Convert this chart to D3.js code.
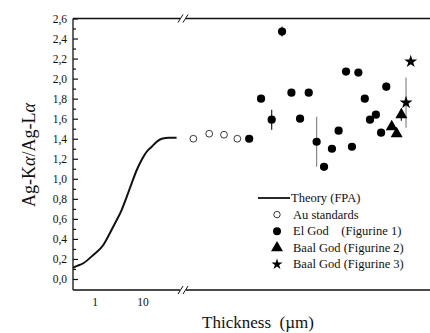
<!DOCTYPE html>
<html lang="en">
<head>
<meta charset="utf-8">
<title>Ag-Ka/Ag-La vs thickness</title>
<script src="https://cdn.jsdelivr.net/npm/d3@7"></script>
<style>
  body { margin: 0; background: #fff; }
  svg text { font-family: "Liberation Serif", "DejaVu Serif", serif; fill: #111; }
</style>
</head>
<body>
<script>
// theory curve (FPA), thickness in um
var theoryT = [0.35, 0.38, 0.57, 0.92, 1.49, 2.05, 2.61, 3.6, 4.57, 5.8, 7.4, 9.4, 11.9, 15.2, 19.3, 24.5, 35, 50];
var theoryY = [0.11, 0.12, 0.157, 0.24, 0.34, 0.46, 0.556, 0.69, 0.82, 0.955, 1.088, 1.19, 1.27, 1.32, 1.37, 1.40, 1.41, 1.41];

// measured samples, placed after the axis break (sample position)
var auPos = [4.2, 10.6, 16.6, 22.0];
var auVal = [1.40, 1.45, 1.44, 1.40];

var elPos = [26.8, 31.6, 35.9, 40.1, 43.9, 47.4, 50.9, 54.1, 57.1, 60.3, 63.0, 66.0, 68.4, 71.0, 73.6, 75.7, 78.1, 80.2, 82.3];
var elVal = [1.40, 1.80, 1.59, 2.47, 1.86, 1.60, 1.86, 1.37, 1.12, 1.30, 1.48, 2.07, 1.32, 2.06, 1.80, 1.59, 1.64, 1.46, 1.92];
var elErr = [0, 0, 0.10, 0.05, 0, 0, 0, 0.25, 0, 0, 0, 0, 0, 0.03, 0, 0, 0, 0, 0.04];

var baal2Pos = [84.5, 86.5, 88.4];
var baal2Val = [1.52, 1.45, 1.64];
var baal2Err = [0, 0, 0.06];

var baal3Pos = [90.3, 92.2];
var baal3Val = [1.76, 2.17];
var baal3Err = [0.25, 0];

var xTicks = [1, 10];
var legendLabels = ["Theory (FPA)", "Au standards", "El God\u00a0\u00a0\u00a0\u00a0(Figurine 1)", "Baal God (Figurine 2)", "Baal God (Figurine 3)"];

var w = 430, h = 333;
var padL = 73, breakX = 183, padR = 430, padT = 18.5;

var svg = d3.select("body").append("svg").attr("width", w).attr("height", h)
   .attr("font-family", "Liberation Serif, serif");

var y = d3.scaleLinear().domain([0, 2.6]).range([279, padT]);
var padB = y(-0.11);
var xLog = d3.scaleLog().domain([0.348, 68]).range([padL, breakX]);
var xPos = d3.scaleLinear().domain([0, 100]).range([breakX, padR]);

// frame
svg.append("line").attr("x1", padL).attr("x2", padR).attr("y1", padT).attr("y2", padT)
   .attr("stroke", "#111").attr("stroke-width", 1.3);
svg.append("line").attr("x1", padL).attr("x2", padR).attr("y1", padB).attr("y2", padB)
   .attr("stroke", "#111").attr("stroke-width", 1.3);
svg.append("line").attr("x1", padL).attr("x2", padL).attr("y1", padT).attr("y2", padB)
   .attr("stroke", "#111").attr("stroke-width", 1.3);

// axis break marks
[padT, padB].forEach(function(yy) {
  svg.append("rect").attr("x", breakX - 3).attr("y", yy - 3).attr("width", 6).attr("height", 6).attr("fill", "#fff");
  [-2.5, 2.5].forEach(function(dx) {
    svg.append("line")
       .attr("x1", breakX + dx - 2.5).attr("y1", yy + 4)
       .attr("x2", breakX + dx + 2.5).attr("y2", yy - 4)
       .attr("stroke", "#111").attr("stroke-width", 1);
  });
});

// y axis, ticks pointing inside
var fmt = function(d) { return d3.format(".1f")(d).replace(".", ","); };
var yAxis = svg.append("g").attr("transform", "translate(" + padL + ",0)")
   .call(d3.axisLeft(y).tickValues(d3.range(0, 2.61, 0.2)).tickSizeInner(-5).tickSizeOuter(0).tickPadding(6).tickFormat(fmt));
yAxis.select(".domain").remove();
yAxis.attr("font-family", "Liberation Serif, serif");
yAxis.selectAll("line").attr("stroke", "#111").attr("stroke-width", 1.2);
yAxis.selectAll("text").attr("font-size", "11.5px").attr("fill", "#222");

var yMinor = svg.append("g").attr("transform", "translate(" + padL + ",0)")
   .call(d3.axisLeft(y).tickValues(d3.range(0.1, 2.6, 0.2)).tickSizeInner(-3).tickSizeOuter(0).tickFormat(""));
yMinor.select(".domain").remove();
yMinor.selectAll("line").attr("stroke", "#111").attr("stroke-width", 1.2);

// x tick labels (log part)
svg.selectAll("text.xt")
   .data(xTicks)
   .enter()
   .append("text")
   .attr("class", "xt")
   .attr("x", function(d) { return xLog(d); })
   .attr("y", 306)
   .attr("text-anchor", "middle")
   .attr("font-size", "11.5px")
   .text(function(d) { return d; });

// axis titles
var yt = svg.append("text")
   .attr("transform", "translate(35,155) rotate(-90)")
   .attr("text-anchor", "middle")
   .attr("font-size", "18px");
yt.append("tspan").text("Ag-K");
yt.append("tspan").attr("font-style", "italic").text("\u03b1");
yt.append("tspan").text("/Ag-L");
yt.append("tspan").attr("font-style", "italic").text("\u03b1");

svg.append("text")
   .attr("x", 258).attr("y", 328)
   .attr("text-anchor", "middle")
   .attr("font-size", "17px")
   .style("white-space", "pre")
   .text("Thickness  (\u00b5m)");

// theory curve
var line = d3.line()
   .x(function(d, i) { return xLog(theoryT[i]); })
   .y(function(d) { return y(d); })
   .curve(d3.curveMonotoneX);
svg.append("path").datum(theoryY)
   .attr("d", line)
   .attr("fill", "none").attr("stroke", "#111").attr("stroke-width", 2);

// error bars
function errBars(pos, val, err) {
  var idx = d3.range(pos.length).filter(function(i) { return err[i] > 0; });
  svg.selectAll(null).data(idx).enter().append("line")
     .attr("x1", function(i) { return xPos(pos[i]); })
     .attr("x2", function(i) { return xPos(pos[i]); })
     .attr("y1", function(i) { return y(val[i] - err[i]); })
     .attr("y2", function(i) { return y(val[i] + err[i]); })
     .attr("stroke", function(i) { return err[i] > 0.15 ? "#888" : "#222"; })
     .attr("stroke-width", 1.2);
}
errBars(elPos, elVal, elErr);
errBars(baal2Pos, baal2Val, baal2Err);
errBars(baal3Pos, baal3Val, baal3Err);

// Au standards (open circles)
svg.selectAll("circle.au").data(auVal).enter().append("circle")
   .attr("class", "au")
   .attr("cx", function(d, i) { return xPos(auPos[i]); })
   .attr("cy", function(d) { return y(d); })
   .attr("r", 3.4)
   .attr("fill", "#fff").attr("stroke", "#222").attr("stroke-width", 0.9);

// El God (filled circles)
svg.selectAll("circle.el").data(elVal).enter().append("circle")
   .attr("class", "el")
   .attr("cx", function(d, i) { return xPos(elPos[i]); })
   .attr("cy", function(d) { return y(d); })
   .attr("r", 4.1)
   .attr("fill", "#000");

// Baal God fig 2 (triangles)
var tri = d3.symbol().type(d3.symbolTriangle).size(62);
svg.selectAll("path.b2").data(baal2Val).enter().append("path")
   .attr("class", "b2")
   .attr("d", tri)
   .attr("transform", function(d, i) { return "translate(" + xPos(baal2Pos[i]) + "," + y(d) + ")"; })
   .attr("fill", "#000");

// Baal God fig 3 (stars)
var star = d3.symbol().type(d3.symbolStar).size(52);
svg.selectAll("path.b3").data(baal3Val).enter().append("path")
   .attr("class", "b3")
   .attr("d", star)
   .attr("transform", function(d, i) { return "translate(" + xPos(baal3Pos[i]) + "," + y(d) + ")"; })
   .attr("fill", "#000");

// legend
var lg = svg.append("g").attr("transform", "translate(0,198)");
var rowH = 16.6;
var legStar = d3.symbol().type(d3.symbolStar).size(38);
lg.append("line").attr("x1", 258).attr("x2", 290).attr("y1", 0).attr("y2", 0)
  .attr("stroke", "#111").attr("stroke-width", 1.8);
lg.append("circle").attr("cx", 277).attr("cy", rowH).attr("r", 3.2)
  .attr("fill", "#fff").attr("stroke", "#222").attr("stroke-width", 0.9);
lg.append("circle").attr("cx", 277).attr("cy", rowH * 2).attr("r", 4)
  .attr("fill", "#000");
lg.append("path").attr("d", tri).attr("transform", "translate(277," + (rowH * 3) + ")").attr("fill", "#000");
lg.append("path").attr("d", legStar).attr("transform", "translate(277," + (rowH * 4) + ")").attr("fill", "#000");
lg.selectAll("text").data(legendLabels).enter().append("text")
  .attr("x", function(d, i) { return i === 0 ? 291 : 293; })
  .attr("y", function(d, i) { return i * rowH + 4; })
  .attr("font-size", "12.5px")
  .text(function(d) { return d; });
</script>
</body>
</html>
